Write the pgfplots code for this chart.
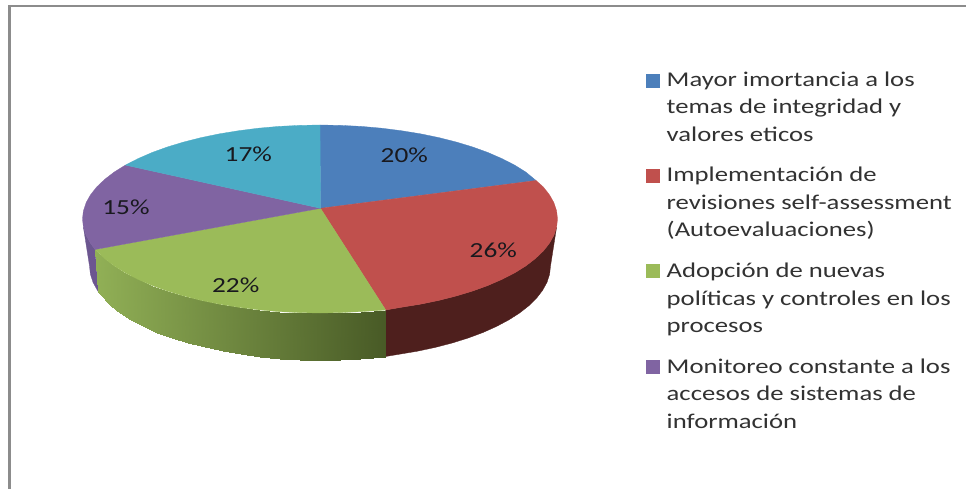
\documentclass[border=0pt]{standalone}
\usepackage{fontspec}
\setmainfont[FakeStretch=1.27]{Carlito}
\usepackage{pgfplots}
\pgfplotsset{compat=1.18}
\definecolor{cblue}{RGB}{76,127,187}
\definecolor{cred}{RGB}{192,80,77}
\definecolor{cgreen}{RGB}{155,187,89}
\definecolor{cpurple}{RGB}{128,100,162}
\definecolor{ccyan}{RGB}{75,172,198}
\definecolor{sred}{RGB}{78,31,29}
\definecolor{spurple}{RGB}{108,86,144}
\definecolor{frame}{RGB}{140,140,140}
\definecolor{legtext}{RGB}{50,50,50}
\definecolor{lab}{RGB}{25,25,30}
\pgfplotsset{
  colormap={sgreen}{rgb255(0)=(145,176,86) rgb255(1)=(72,90,38)}
}
\tikzset{
  legtxt/.style={anchor=base west, font=\fontsize{21}{24}\selectfont, text=legtext, inner sep=0pt},
  vlab/.style={anchor=center, font=\fontsize{21.5}{24}\selectfont, text=lab, inner sep=0pt},
}
\begin{document}
\begin{tikzpicture}
\begin{axis}[
  scale only axis, width=966pt, height=489pt,
  xmin=0, xmax=966, ymin=0, ymax=489, y dir=reverse,
  hide axis, clip=true,
  point meta min=95, point meta max=386, colormap name=sgreen,
]
% white page and frame
\addplot[draw=none, fill=white, forget plot] coordinates {(0,0) (966,0) (966,489) (0,489)} -- cycle;
\addplot[draw=frame, line width=2.4pt, forget plot] coordinates {(9.3,489) (9.3,6.2) (966,6.2)};
% side: red
\addplot[fill=sred, draw=sred, line width=.3pt, forget plot] coordinates {
 (385.7,310) (401.2,307.3) (420.4,304.2) (438.8,300.4) (456.2,296) (472.7,291) (487.9,285.5) (501.9,279.4) (514.6,272.9) (525.7,266) (535.2,258.7) (543.2,251.1) (549.4,243.3) (553.9,235.3) (556.6,227.2)
 (550.5,266) (549.6,274.2) (547.0,282.3) (542.6,290.3) (536.6,298.1) (528.9,305.7) (519.6,313) (508.8,319.9) (496.6,326.4) (483.0,332.5) (468.2,338) (452.2,343) (435.3,347.4) (417.4,351.2) (398.8,354.3) (385.7,356.5)
} -- cycle;
% side: purple
\addplot[fill=spurple, draw=spurple, line width=.3pt, forget plot] coordinates {
 (83.4,227.2) (86.1,235.3) (90.6,243.3) (95,249.5) (98.3,291.7) (97.4,290.3) (93,282.3) (90.4,274.2) (89.5,266)
} -- cycle;
% side: green, shaded from left to right
\addplot[patch, patch type=rectangle, shader=interp, point meta=x, forget plot] coordinates {
 (95,249.5) (104.8,258.7) (111.1,305.7) (98.3,291.7)
 (104.8,258.7) (114.3,266) (120.4,313) (111.1,305.7)
 (114.3,266) (125.4,272.9) (131.2,319.9) (120.4,313)
 (125.4,272.9) (138.1,279.4) (143.4,326.4) (131.2,319.9)
 (138.1,279.4) (152.1,285.5) (157.0,332.5) (143.4,326.4)
 (152.1,285.5) (167.3,291) (171.8,338) (157.0,332.5)
 (167.3,291) (183.8,296) (187.8,343) (171.8,338)
 (183.8,296) (201.2,300.4) (204.7,347.4) (187.8,343)
 (201.2,300.4) (219.6,304.2) (222.6,351.2) (204.7,347.4)
 (219.6,304.2) (238.8,307.3) (241.2,354.3) (222.6,351.2)
 (238.8,307.3) (258.5,309.8) (260.3,356.8) (241.2,354.3)
 (258.5,309.8) (278.8,311.6) (280.0,358.6) (260.3,356.8)
 (278.8,311.6) (299.3,312.6) (299.9,359.6) (280.0,358.6)
 (299.3,312.6) (320,313) (320,360) (299.9,359.6)
 (320,313) (340.7,312.6) (340.1,359.6) (320,360)
 (340.7,312.6) (361.2,311.6) (360,358.6) (340.1,359.6)
 (361.2,311.6) (385.7,310) (385.7,356.5) (360,358.6)
};
% top: blue 20%
\addplot[fill=cblue, draw=cblue, line width=.3pt, forget plot] coordinates {
 (320.5,208.3) (320,125) (340.7,125.4) (361.2,126.4) (381.5,128.2) (401.2,130.7) (420.4,133.8) (438.8,137.6) (456.2,142) (472.7,147) (487.9,152.5) (501.9,158.6) (514.6,165.1) (525.7,172) (536,180.5)
} -- cycle;
% top: red 26%
\addplot[fill=cred, draw=cred, line width=.3pt, forget plot] coordinates {
 (320.5,208.3) (536,180.5) (543.2,186.9) (549.4,194.7) (553.9,202.7) (556.6,210.8) (557.5,219) (556.6,227.2) (553.9,235.3) (549.4,243.3) (543.2,251.1) (535.2,258.7) (525.7,266) (514.6,272.9) (501.9,279.4) (487.9,285.5) (472.7,291) (456.2,296) (438.8,300.4) (420.4,304.2) (401.2,307.3) (385.7,310)
} -- cycle;
% top: green 22%
\addplot[fill=cgreen, draw=cgreen, line width=.3pt, forget plot] coordinates {
 (320.5,208.3) (385.7,310) (361.2,311.6) (340.7,312.6) (320,313) (299.3,312.6) (278.8,311.6) (258.5,309.8) (238.8,307.3) (219.6,304.2) (201.2,300.4) (183.8,296) (167.3,291) (152.1,285.5) (138.1,279.4) (125.4,272.9) (114.3,266) (104.8,258.7) (95,249.5)
} -- cycle;
% top: purple 15%
\addplot[fill=cpurple, draw=cpurple, line width=.3pt, forget plot] coordinates {
 (320.5,208.3) (95,249.5) (90.6,243.3) (86.1,235.3) (83.4,227.2) (82.5,219) (83.4,210.8) (86.1,202.7) (90.6,194.7) (96.8,186.9) (104.8,179.3) (114.3,172) (125.4,165.1)
} -- cycle;
% top: cyan 17%
\addplot[fill=ccyan, draw=ccyan, line width=.3pt, forget plot] coordinates {
 (320.5,208.3) (125.4,165.1) (138.1,158.6) (152.1,152.5) (167.3,147) (183.8,142) (201.2,137.6) (219.6,133.8) (238.8,130.7) (258.5,128.2) (278.8,126.4) (299.3,125.4) (320,125)
} -- cycle;
% legend keys
\addplot[only marks, mark=square*, mark size=6.6pt, mark options={draw=cblue, fill=cblue}, forget plot] coordinates {(653,80.5)};
\addplot[only marks, mark=square*, mark size=6.6pt, mark options={draw=cred, fill=cred}, forget plot] coordinates {(653,176)};
\addplot[only marks, mark=square*, mark size=6.6pt, mark options={draw=cgreen, fill=cgreen}, forget plot] coordinates {(653,270.5)};
\addplot[only marks, mark=square*, mark size=6.6pt, mark options={draw=cpurple, fill=cpurple}, forget plot] coordinates {(653,366.5)};
% value labels
\node[vlab] at (axis cs:404.3,155.7) {20\%};
\node[vlab] at (axis cs:493.3,250.7) {26\%};
\node[vlab] at (axis cs:235.7,285) {22\%};
\node[vlab] at (axis cs:126,207.7) {15\%};
\node[vlab] at (axis cs:248.3,154.3) {17\%};
% legend text
\node[legtxt] at (axis cs:666.5,86.7) {Mayor imortancia a los};
\node[legtxt] at (axis cs:666.5,114) {temas de integridad y};
\node[legtxt] at (axis cs:666.5,141.7) {valores eticos};
\node[legtxt] at (axis cs:666.5,182) {Implementación de};
\node[legtxt] at (axis cs:666.5,209) {revisiones self-assessment};
\node[legtxt] at (axis cs:666.5,236.7) {(Autoevaluaciones)};
\node[legtxt] at (axis cs:666.5,277) {Adopción de nuevas};
\node[legtxt] at (axis cs:666.5,305) {políticas y controles en los};
\node[legtxt] at (axis cs:666.5,332) {procesos};
\node[legtxt] at (axis cs:666.5,373) {Monitoreo constante a los};
\node[legtxt] at (axis cs:666.5,400) {accesos de sistemas de};
\node[legtxt] at (axis cs:666.5,428) {información};
\end{axis}
\end{tikzpicture}
\end{document}
